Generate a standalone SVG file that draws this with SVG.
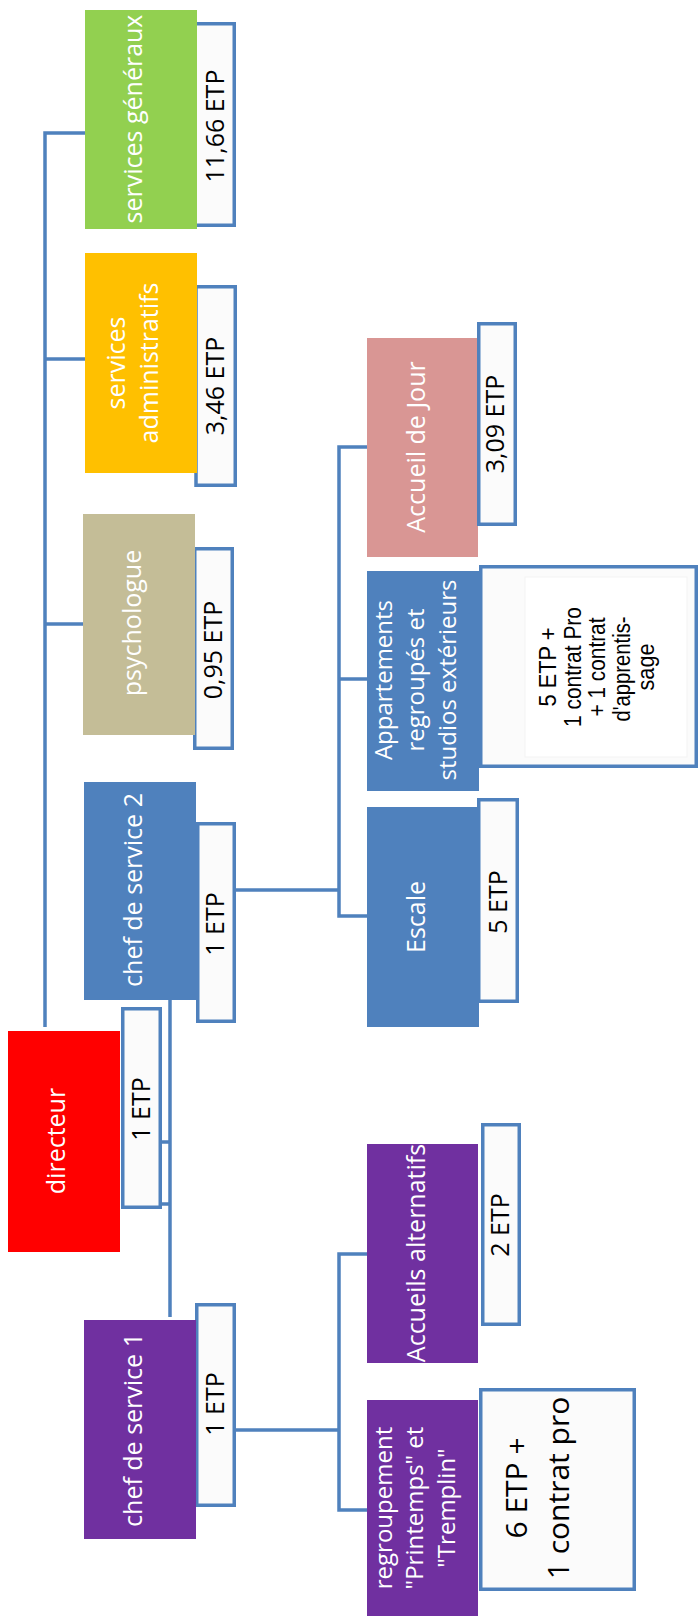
<svg xmlns="http://www.w3.org/2000/svg" width="700" height="1616" viewBox="0 0 700 1616">
  <style>
    .lbl { fill: #ffffff; font-family: "Open Sans", "DejaVu Sans", sans-serif; font-size: 25px; text-anchor: middle; }
    .etp rect.frame { fill: #fbfbfb; stroke: #4f81bd; stroke-width: 3.5; }
    .num { fill: #000000; font-family: "Open Sans", "DejaVu Sans", sans-serif; font-size: 25px; text-anchor: middle; }
    .narrow { fill: #000000; font-family: "Liberation Sans Narrow", "Liberation Sans", Arial, sans-serif; font-size: 23px; text-anchor: middle; }
    .link { fill: none; stroke: #4f81bd; stroke-width: 3.5; }
  </style>

  <rect width="700" height="1616" fill="#ffffff"/>

  <!-- connectors -->
  <g id="connectors" class="link">
    <path d="M85,133 H45 V1027"/>
    <path d="M45,359 H85"/>
    <path d="M45,624 H85"/>
    <path d="M170,1000 V1317"/>
    <path d="M161,1142 H170"/>
    <path d="M161,1204 H170"/>
    <path d="M235,890 H339"/>
    <path d="M367,447 H339 V916 H367"/>
    <path d="M339,679 H367"/>
    <path d="M235,1430 H339"/>
    <path d="M367,1254 H339 V1510 H367"/>
  </g>

  <!-- services généraux -->
  <g id="services-generaux" class="etp">
    <rect class="frame" x="195" y="23.75" width="39.25" height="201.5"/>
    <rect x="85" y="10" width="112" height="219" fill="#92d050"/>
    <text class="lbl" transform="translate(142,119) rotate(-90)">services généraux</text>
    <text class="num" transform="translate(224,126) rotate(-90)">11,66 ETP</text>
  </g>

  <!-- services administratifs -->
  <g id="services-administratifs" class="etp">
    <rect class="frame" x="196" y="286.75" width="39.25" height="198.5"/>
    <rect x="85" y="253" width="112" height="220" fill="#ffc000"/>
    <text class="lbl" transform="translate(125,363) rotate(-90)">services<tspan x="0" dy="33">administratifs</tspan></text>
    <text class="num" transform="translate(224,386) rotate(-90)">3,46 ETP</text>
  </g>

  <!-- psychologue -->
  <g id="psychologue" class="etp">
    <rect class="frame" x="194.75" y="548.75" width="37.5" height="199.5"/>
    <rect x="83" y="514" width="112" height="221" fill="#c4bd97"/>
    <text class="lbl" transform="translate(141,623) rotate(-90)">psychologue</text>
    <text class="num" transform="translate(222,650) rotate(-90)">0,95 ETP</text>
  </g>

  <!-- chef de service 2 -->
  <g id="chef-de-service-2" class="etp">
    <rect class="frame" x="197.75" y="823.75" width="36.5" height="197.5"/>
    <rect x="84" y="782" width="112" height="218" fill="#4f81bd"/>
    <text class="lbl" transform="translate(142,890) rotate(-90)">chef de service 2</text>
    <text class="num" transform="translate(224,924) rotate(-90)">1 ETP</text>
  </g>

  <!-- directeur -->
  <g id="directeur" class="etp">
    <rect x="8" y="1031" width="112" height="221" fill="#ff0000"/>
    <rect class="frame" x="122.75" y="1008.75" width="37.5" height="198.5"/>
    <text class="lbl" transform="translate(65,1141) rotate(-90)">directeur</text>
    <text class="num" transform="translate(150,1109) rotate(-90)">1 ETP</text>
  </g>

  <!-- chef de service 1 -->
  <g id="chef-de-service-1" class="etp">
    <rect class="frame" x="196.75" y="1304.75" width="37.5" height="200.5"/>
    <rect x="84" y="1320" width="112" height="219" fill="#7030a0"/>
    <text class="lbl" transform="translate(142,1430) rotate(-90)">chef de service 1</text>
    <text class="num" transform="translate(224,1404) rotate(-90)">1 ETP</text>
  </g>

  <!-- Accueil de Jour -->
  <g id="accueil-de-jour" class="etp">
    <rect x="367" y="338" width="111" height="219" fill="#d99694"/>
    <rect class="frame" x="478.75" y="323.75" width="36.5" height="200.5"/>
    <text class="lbl" transform="translate(425,447) rotate(-90)">Accueil de Jour</text>
    <text class="num" transform="translate(504,424) rotate(-90)">3,09 ETP</text>
  </g>

  <!-- Appartements regroupés et studios extérieurs -->
  <g id="appartements" class="etp">
    <rect x="367" y="571" width="112" height="220" fill="#4f81bd"/>
    <rect class="frame" x="480.75" y="566.75" width="215.5" height="199.5" fill="#ffffff"/>
    <rect x="525" y="577" width="162" height="180" fill="#ffffff" stroke="#f3f3f3" stroke-width="1"/>
    <text class="lbl" font-size="24" style="font-size:24px" transform="translate(392,680) rotate(-90)">Appartements<tspan x="0" dy="32">regroupés et</tspan><tspan x="0" dy="32">studios extérieurs</tspan></text>
    <text class="narrow" transform="translate(556,667) rotate(-90)" textLength="79" lengthAdjust="spacingAndGlyphs">5 ETP +</text>
    <text class="narrow" transform="translate(580.5,667) rotate(-90)" textLength="120" lengthAdjust="spacingAndGlyphs">1 contrat Pro</text>
    <text class="narrow" transform="translate(605,667) rotate(-90)" textLength="99" lengthAdjust="spacingAndGlyphs">+ 1 contrat</text>
    <text class="narrow" transform="translate(629.5,669) rotate(-90)" textLength="105" lengthAdjust="spacingAndGlyphs">d'apprentis-</text>
    <text class="narrow" transform="translate(654,667) rotate(-90)" textLength="47" lengthAdjust="spacingAndGlyphs">sage</text>
  </g>

  <!-- Escale -->
  <g id="escale" class="etp">
    <rect class="frame" x="478.75" y="799.75" width="38.5" height="201.5"/>
    <rect x="367" y="807" width="112" height="220" fill="#4f81bd"/>
    <text class="lbl" transform="translate(425,917) rotate(-90)">Escale</text>
    <text class="num" transform="translate(507,902) rotate(-90)">5 ETP</text>
  </g>

  <!-- Accueils alternatifs -->
  <g id="accueils-alternatifs" class="etp">
    <rect x="367" y="1144" width="111" height="219" fill="#7030a0"/>
    <rect class="frame" x="482.75" y="1124.75" width="36.5" height="199.5"/>
    <text class="lbl" transform="translate(425,1253) rotate(-90)">Accueils alternatifs</text>
    <text class="num" transform="translate(509,1225) rotate(-90)">2 ETP</text>
  </g>

  <!-- regroupement "Printemps" et "Tremplin" -->
  <g id="regroupement" class="etp">
    <rect x="367" y="1400" width="111" height="216" fill="#7030a0"/>
    <rect class="frame" x="480.75" y="1389.75" width="153.5" height="199.5"/>
    <text class="lbl" style="font-size:24px" transform="translate(392,1508) rotate(-90)">regroupement<tspan x="0" dy="31">"Printemps" et</tspan><tspan x="0" dy="32">"Tremplin"</tspan></text>
    <text class="num" style="font-size:30px" transform="translate(527,1488) rotate(-90)">6 ETP +<tspan x="0" dy="42">1 contrat pro</tspan></text>
  </g>
</svg>
